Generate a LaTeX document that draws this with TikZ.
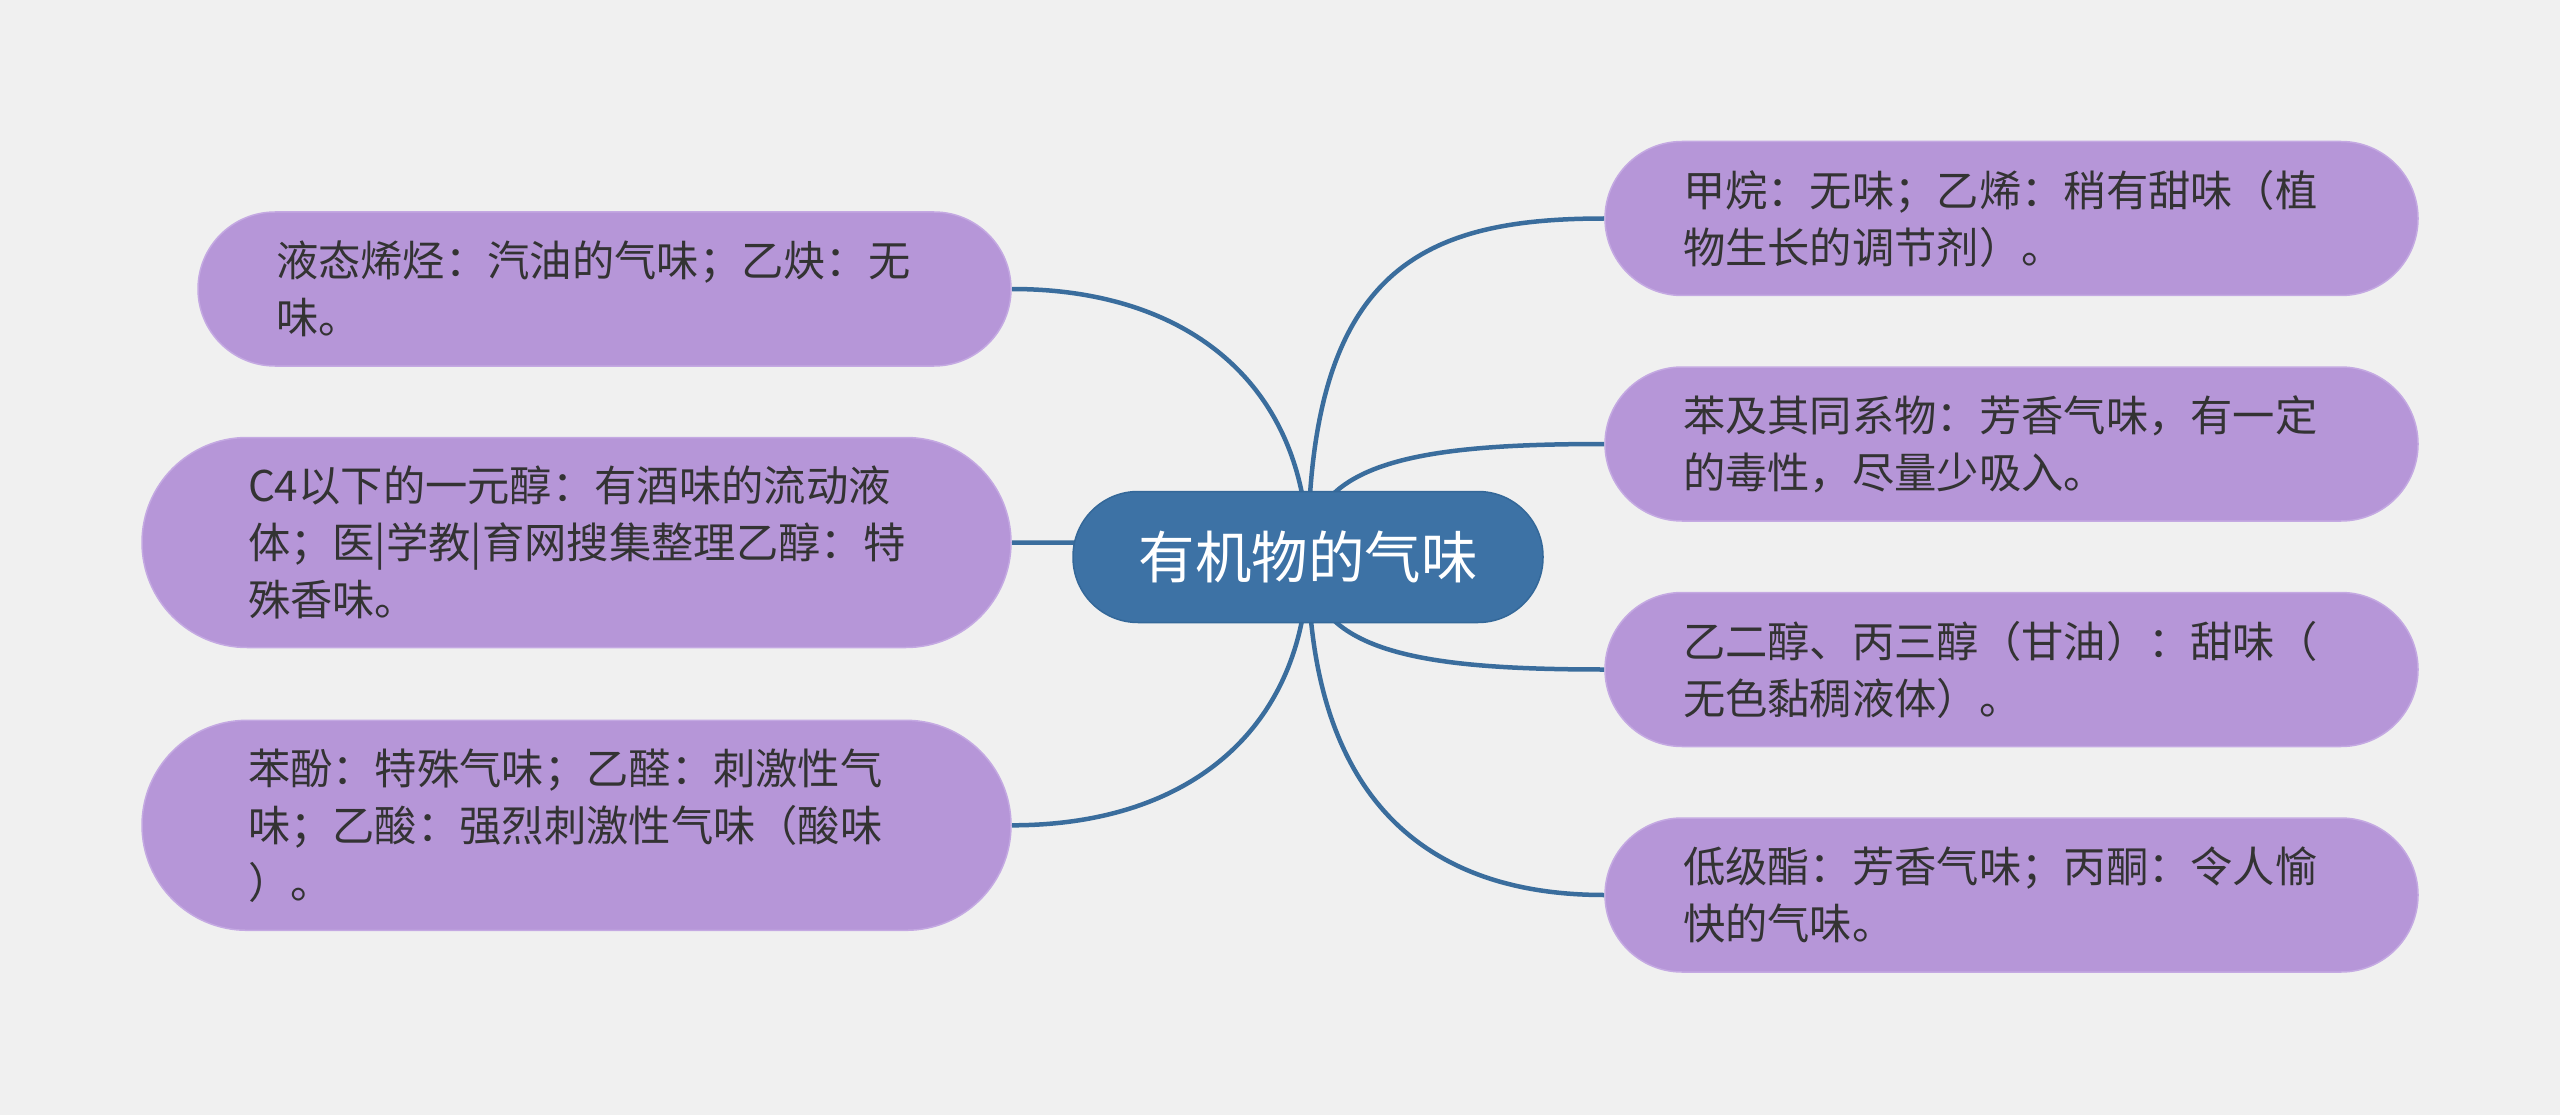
\documentclass[tikz,border=0pt]{standalone}
\usepackage{fontspec}
\newfontfamily\cjk{Noto Sans CJK SC}
\usetikzlibrary{backgrounds}
\definecolor{bgc}{HTML}{F0F0F0}
\definecolor{purp}{HTML}{B696D8}
\definecolor{purpedge}{HTML}{C4A9E2}
\definecolor{mainblue}{HTML}{3D72A5}
\definecolor{mainedge}{HTML}{346899}
\definecolor{linec}{HTML}{3A6D9D}
\definecolor{txt}{HTML}{333333}
\begin{document}
\begin{tikzpicture}[x=1pt,y=-1pt,
  leaf/.style={draw=purpedge, line width=1.5pt, fill=purp, inner sep=0pt, text width=657pt, align=left, text=txt, font=\cjk\fontsize{42.3}{57}\selectfont},
  leaftwo/.style={leaf, minimum width=813pt, minimum height=154pt, rounded corners=77pt},
  leafthree/.style={leaf, minimum width=869pt, minimum height=210pt, rounded corners=105pt},
  rootnode/.style={draw=mainedge, line width=1.5pt, fill=mainblue, minimum width=470pt, minimum height=131pt, rounded corners=65pt, text=white, font=\cjk\fontsize{56.5}{68}\selectfont, inner sep=0pt},
  link/.style={draw=linec, line width=4.5pt}
]
\useasboundingbox (0,0) rectangle (2560,1115);

\node[rootnode] (c) at (1308,557) {有机物的气味};

\node[leaftwo] (l1) at (604.5,289) {液态烯烃：汽油的气味；乙炔：无\\味。};
\node[leafthree] (l2) at (576.5,542.5) {C4以下的一元醇：有酒味的流动液\\体；医|学教|育网搜集整理乙醇：特\\殊香味。};
\node[leafthree] (l3) at (576.5,825.3) {苯酚：特殊气味；乙醛：刺激性气\\味；乙酸：强烈刺激性气味（酸味\\）。};

\node[leaftwo] (r1) at (2011.5,218.5) {甲烷：无味；乙烯：稍有甜味（植\\物生长的调节剂）。};
\node[leaftwo] (r2) at (2011.5,444) {苯及其同系物：芳香气味，有一定\\的毒性，尽量少吸入。};
\node[leaftwo] (r3) at (2011.5,669.5) {乙二醇、丙三醇（甘油）：甜味（\\无色黏稠液体）。};
\node[leaftwo] (r4) at (2011.5,895) {低级酯：芳香气味；丙酮：令人愉\\快的气味。};

\begin{pgfonlayer}{background}
\fill[bgc] (0,0) rectangle (2560,1115);
\draw[link] (c.center) .. controls (1308,391) and (1195,289) .. (l1.east);
\draw[link] (c.center) .. controls (1290,548) and (1195,542.5) .. (l2.east);
\draw[link] (c.center) .. controls (1308,723.3) and (1195,825.3) .. (l3.east);
\draw[link] (c.center) .. controls (1308,269.3) and (1421,218.5) .. (r1.west);
\draw[link] (c.center) .. controls (1308,461) and (1421,444) .. (r2.west);
\draw[link] (c.center) .. controls (1308,652.6) and (1421,669.5) .. (r3.west);
\draw[link] (c.center) .. controls (1308,793.6) and (1421,895) .. (r4.west);
\end{pgfonlayer}
\end{tikzpicture}
\end{document}
